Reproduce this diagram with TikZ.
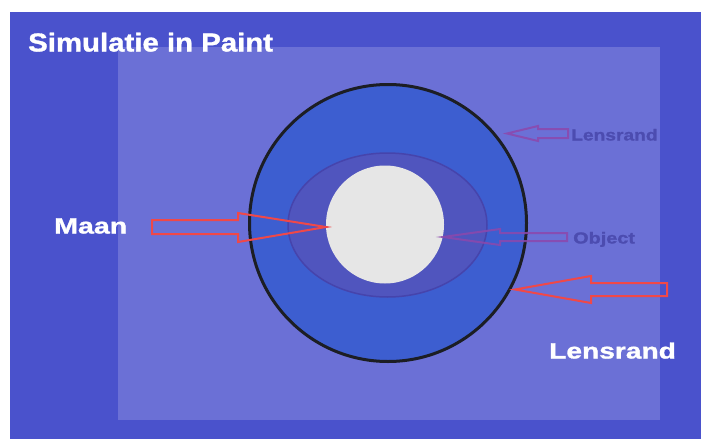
\documentclass[tikz,border=0pt]{standalone}
\usepackage{fontspec}
\usepackage{graphicx}
\setmainfont{Liberation Sans}[BoldFeatures={FakeBold=1.2}]
\definecolor{outerblue}{RGB}{74,82,204}
\definecolor{innerblue}{RGB}{107,112,214}
\definecolor{lensblue}{RGB}{61,94,208}
\definecolor{ringblue}{RGB}{80,85,190}
\definecolor{ringedge}{RGB}{70,68,172}
\definecolor{moongray}{RGB}{230,230,230}
\definecolor{lensedge}{RGB}{28,30,36}
\definecolor{arrowred}{RGB}{240,72,72}
\definecolor{arrowpurple}{RGB}{140,72,172}
\definecolor{labelpurple}{RGB}{76,76,176}
\tikzset{
  redarrow/.style={draw=arrowred, line width=2pt, line join=miter},
  purplearrow/.style={draw=arrowpurple, draw opacity=0.85, line width=2pt, line join=miter},
  whitelabel/.style={inner sep=0pt, anchor=base west, text=white, font=\bfseries},
  purplelabel/.style={inner sep=0pt, anchor=base west, text=labelpurple, font=\bfseries},
}
\begin{document}
\begin{tikzpicture}[x=1pt,y=-1pt]
\useasboundingbox (0,0) rectangle (701,439);
\fill[white] (0,0) rectangle (701,439);
\fill[outerblue] (10,12) rectangle (701,439);
\fill[innerblue] (118,47) rectangle (660,420);
% lens
\coordinate (c) at (388,223);
\filldraw[fill=lensblue, draw=lensedge, line width=3pt] (c) circle[radius=138.5];
\filldraw[fill=ringblue, draw=ringedge, line width=1.5pt] (387.5,225) ellipse[x radius=99.5, y radius=72];
\fill[moongray] (385,224.5) circle[radius=59];
% arrows
\draw[redarrow] (152,220) -- (238,220) -- (238,213) -- (326,227) -- (238,242) -- (238,234) -- (152,234) -- cycle;
\draw[purplearrow] (567,233) -- (500,233) -- (500,229) -- (443,237) -- (500,245) -- (500,241) -- (567,241) -- cycle;
\draw[redarrow] (667,283) -- (591,283) -- (591,276) -- (515,289.5) -- (591,303) -- (591,296) -- (667,296) -- cycle;
\draw[purplearrow] (568,129) -- (538,129) -- (538,126) -- (507,133.5) -- (538,141) -- (538,138) -- (568,138) -- cycle;
% labels
\node[whitelabel, font=\bfseries\fontsize{26}{26}\selectfont] (title) at (28,51.5) {\scalebox{1.13}[1]{Simulatie in Paint}};
\node[whitelabel, font=\bfseries\fontsize{22}{22}\selectfont] (maan) at (54,233.5) {\scalebox{1.3}[1]{Maan}};
\node[whitelabel, font=\bfseries\fontsize{22}{22}\selectfont] (lensrand) at (549,358.5) {\scalebox{1.28}[1]{Lensrand}};
\node[purplelabel, font=\bfseries\fontsize{16}{16}\selectfont] (lensrandsmall) at (571,140.5) {\scalebox{1.2}[1]{Lensrand}};
\node[purplelabel, font=\bfseries\fontsize{16}{16}\selectfont] (object) at (573,243.5) {\scalebox{1.24}[1]{Object}};
\end{tikzpicture}
\end{document}
